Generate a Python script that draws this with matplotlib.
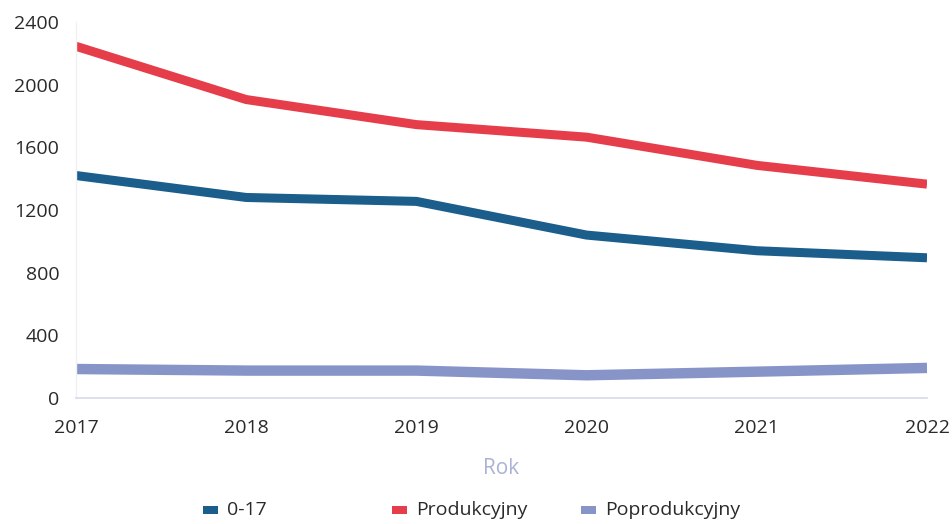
#!/usr/bin/env python3
"""Population by economic age group, 2017-2022."""

import matplotlib

matplotlib.use("Agg")

import matplotlib.pyplot as plt
from matplotlib.patches import Rectangle

YEARS = [2017, 2018, 2019, 2020, 2021, 2022]
AGE_0_17 = [1420, 1280, 1255, 1040, 940, 895]
PRODUKCYJNY = [2245, 1905, 1745, 1665, 1485, 1365]
POPRODUKCYJNY = [185, 175, 175, 145, 168, 192]

SERIES = [
    ("0-17", AGE_0_17, "#1b5d8b", 6.5),
    ("Produkcyjny", PRODUKCYJNY, "#e63d4a", 6.5),
    ("Poprodukcyjny", POPRODUKCYJNY, "#8794c8", 7.5),
]
Y_TICKS = [0, 400, 800, 1200, 1600, 2000, 2400]

plt.rcParams["font.family"] = ["Open Sans", "DejaVu Sans"]

W, H = 953, 524
fig = plt.figure(figsize=(W / 100, H / 100), dpi=100)
ax = fig.add_axes([76 / W, 1 - 398 / H, 851 / W, 376 / H])

for label, values, color, lw in SERIES:
    ax.plot(YEARS, values, color=color, linewidth=lw, solid_capstyle="butt",
            solid_joinstyle="round", label=label)

ax.set_xlim(YEARS[0], YEARS[-1])
ax.set_ylim(0, 2400)
ax.set_xticks(YEARS)
ax.set_yticks(Y_TICKS)
ax.tick_params(axis="both", length=0, labelsize=14, colors="#2a2a2a")
ax.tick_params(axis="x", pad=15)
ax.tick_params(axis="y", pad=12)

for side in ("top", "right"):
    ax.spines[side].set_visible(False)
ax.spines["bottom"].set_color("#d6d9ea")
ax.spines["bottom"].set_linewidth(1.2)
ax.spines["left"].set_color("#f0f0f4")
ax.spines["left"].set_linewidth(1.0)

ax.set_xlabel("Rok", fontsize=15, color="#aab3d6", labelpad=15)

# legend: equal-width slots like the original
for i, (name, _, color, _) in enumerate(SERIES):
    x0 = 203 + 189 * i
    fig.patches.append(Rectangle((x0 / W, 1 - 514 / H), 15 / W, 8 / H,
                                 transform=fig.transFigure, facecolor=color,
                                 edgecolor="none"))
    fig.text((x0 + 24) / W, 1 - 510 / H, name, fontsize=14, color="#2a2a2a",
             ha="left", va="center")

fig.savefig("out.png", dpi=100, facecolor="white")
plt.close(fig)
